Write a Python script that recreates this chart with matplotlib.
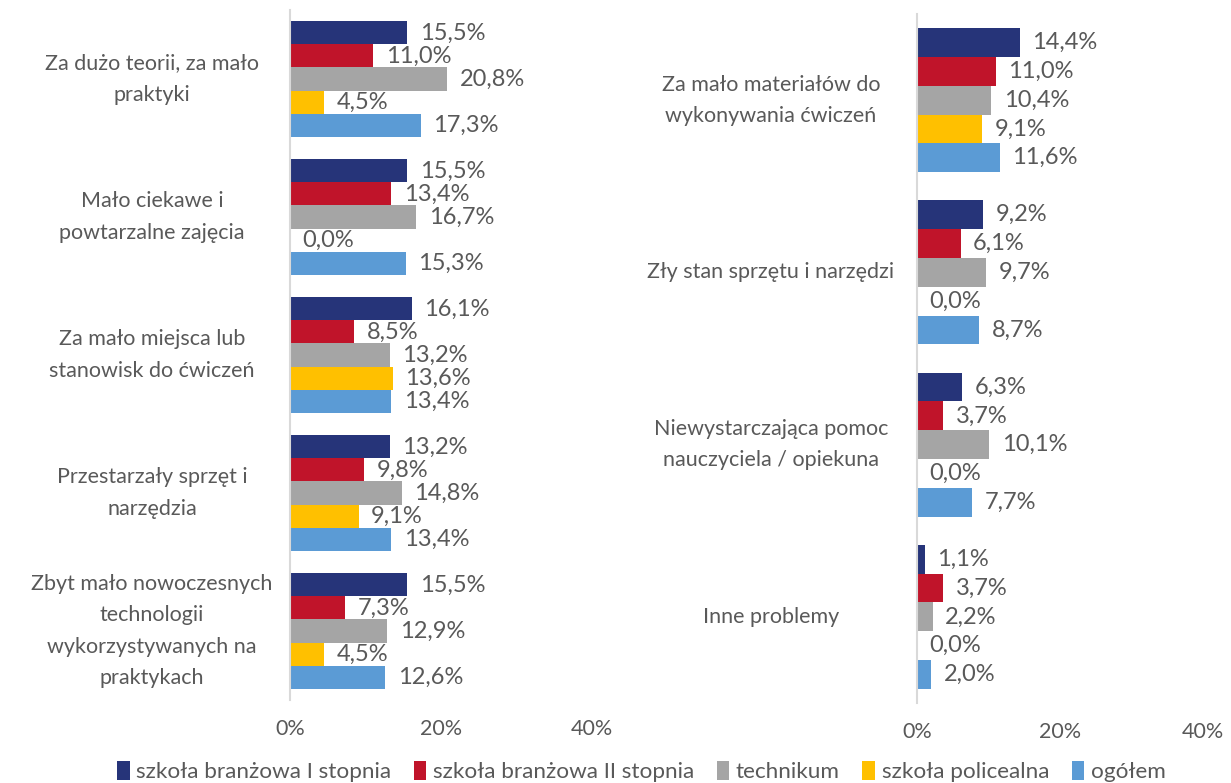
import numpy as np
import matplotlib.pyplot as plt

plt.rcParams['font.family'] = ['Lato', 'DejaVu Sans']

series = ['szkoła branżowa I stopnia', 'szkoła branżowa II stopnia',
          'technikum', 'szkoła policealna', 'ogółem']
colors = ['#263479', '#C0142A', '#A5A5A5', '#FFC000', '#5B9BD5']

left_cats = ['Za dużo teorii, za mało\npraktyki',
             'Mało ciekawe i\npowtarzalne zajęcia',
             'Za mało miejsca lub\nstanowisk do ćwiczeń',
             'Przestarzały sprzęt i\nnarzędzia',
             'Zbyt mało nowoczesnych\ntechnologii\nwykorzystywanych na\npraktykach']
left_vals = [[15.5, 15.5, 16.1, 13.2, 15.5],
             [11.0, 13.4, 8.5, 9.8, 7.3],
             [20.8, 16.7, 13.2, 14.8, 12.9],
             [4.5, 0.0, 13.6, 9.1, 4.5],
             [17.3, 15.3, 13.4, 13.4, 12.6]]

right_cats = ['Za mało materiałów do\nwykonywania ćwiczeń',
              'Zły stan sprzętu i narzędzi',
              'Niewystarczająca pomoc\nnauczyciela / opiekuna',
              'Inne problemy']
right_vals = [[14.4, 9.2, 6.3, 1.1],
              [11.0, 6.1, 3.7, 3.7],
              [10.4, 9.7, 10.1, 2.2],
              [9.1, 0.0, 0.0, 0.0],
              [11.6, 8.7, 7.7, 2.0]]

txt = '#595959'
W, H = 1231, 783
fig = plt.figure(figsize=(W / 100, H / 100), dpi=100)
ax_l = fig.add_axes([290 / W, (H - 700) / H, 302 / W, 690 / H])
ax_r = fig.add_axes([917 / W, (H - 703) / H, 286 / W, 689 / H])


def draw(ax, cats, vals):
    n = len(cats)
    bh = 0.835 / len(series)
    y = np.arange(n)
    for i, (name, col) in enumerate(zip(series, colors)):
        pos = y - 0.4175 + bh * (i + 0.5)
        bars = ax.barh(pos, vals[i], height=bh, color=col, label=name)
        for b, v in zip(bars, vals[i]):
            ax.annotate(f'{v:.1f}%'.replace('.', ','),
                        (b.get_width(), b.get_y() + bh / 2),
                        xytext=(9, 0), textcoords='offset points',
                        va='center', ha='left', fontsize=17, color=txt)
    ax.set_ylim(n - 0.5, -0.5)
    ax.set_xlim(0, 40)
    ax.set_yticks(y)
    ax.set_yticklabels(cats, fontsize=15.5, color=txt, ha='center',
                       va='center', linespacing=1.7)
    ax.tick_params(axis='y', length=0, pad=0)
    ax.set_xticks([0, 20, 40])
    ax.set_xticklabels(['0%', '20%', '40%'], fontsize=15.5, color=txt)
    ax.tick_params(axis='x', length=0, pad=14)
    for s in ['top', 'right', 'bottom']:
        ax.spines[s].set_visible(False)
    ax.spines['left'].set_color('#D9D9D9')
    ax.spines['left'].set_linewidth(1.5)


draw(ax_l, left_cats, left_vals)
draw(ax_r, right_cats, right_vals)

# centre the category labels in the space left of each axis
for ax, cx in [(ax_l, 152), (ax_r, 771)]:
    pos = ax.get_position()
    for lab in ax.get_yticklabels():
        lab.set_x(-(pos.x0 * W - cx) / (pos.width * W))
        lab.set_transform(ax.get_yaxis_transform())

handles, labels = ax_l.get_legend_handles_labels()
fig.legend(handles, labels, loc='lower center', bbox_to_anchor=(0.521, -0.025),
           ncol=5, frameon=False, fontsize=16.2, handlelength=0.55,
           handleheight=0.9, handletextpad=0.3, columnspacing=1.0,
           labelcolor=txt)

fig.savefig('out.png', dpi=100)
